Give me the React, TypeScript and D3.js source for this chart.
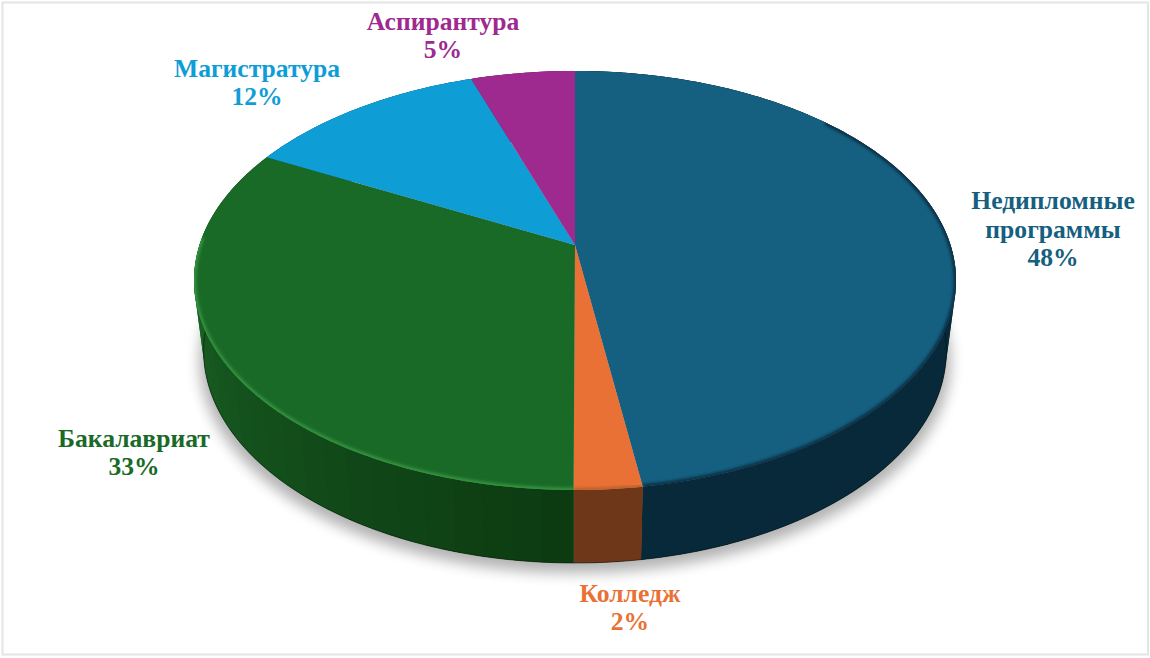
import React from "react";
import * as d3 from "d3";

const categories = ["Недипломные|программы", "Колледж", "Бакалавриат", "Магистратура", "Аспирантура"];
const shares = [47.6, 2.45, 32.65, 12.1, 5.2];
const percentLabels = ["48%", "2%", "33%", "12%", "5%"];

const topColors = ["#155f80", "#ea7135", "#1a6a27", "#0f9dd6", "#9e2a90"];
const wallFrom = ["#07293a", "#6f3719", "#0c3a11", "#0f6f96", "#6e1d64"];
const wallTo = ["#07293a", "#6f3719", "#1a6325", "#0f6f96", "#6e1d64"];
const bevelColors = ["#072a3c", "#b9602b", "#35953f", "#0f9dd6", "#9e2a90"];
const bevelFromDeg = [48, 165, 180, 0, 0];
const bevelToDeg = [175, 185, 272, 0, 0];
const labelX = [1053, 630, 134, 257, 443];
const labelBottom = [266, 630, 475, 105, 58];

const W = 1150;
const H = 658;
const K = 0.1694;
const LINE = 28.5;

type Disc = { cx: number; cy: number; a: number; b: number };
const topDisc: Disc = { cx: 575, cy: 245, a: 375.5, b: 203.5 };
const baseDisc: Disc = { cx: 575, cy: 315, a: 366, b: 206 };

const project = (d: Disc, t: number): [number, number] => {
  const u = Math.sin(t);
  const v = -Math.cos(t);
  const w = 1 - K * v;
  return [d.cx + (d.a * u) / w, d.cy + (d.b * v) / w];
};

const arcAngles = (a0: number, a1: number, step = Math.PI / 180) => {
  const n = Math.max(2, Math.ceil((a1 - a0) / step));
  return d3.range(n + 1).map((i) => a0 + ((a1 - a0) * i) / n);
};

const rad = (deg: number) => (deg * Math.PI) / 180;
const line = d3.line<[number, number]>();
const pie = d3.pie<number>().sort(null).value((d) => d);
const arcs = pie(shares);
const full = arcAngles(0, 2 * Math.PI);
const STRIP = rad(4);

export default function App() {
  return (
    <svg
      width={W}
      height={H}
      viewBox={`0 0 ${W} ${H}`}
      style={{ position: "absolute", left: 0, top: 0, background: "#fff" }}
    >
      <defs>
        <filter id="shadow" x="-20%" y="-20%" width="140%" height="140%">
          <feGaussianBlur stdDeviation="7" />
        </filter>
        <filter id="bevel" x="-20%" y="-20%" width="140%" height="140%">
          <feGaussianBlur stdDeviation="1.6" />
        </filter>
        {arcs.map((s, i) => (
          <clipPath id={`clip${i}`} key={i}>
            <path
              d={`${line(arcAngles(s.startAngle, s.endAngle).map((t) => project(topDisc, t)))}L${topDisc.cx},${topDisc.cy}Z`}
            />
          </clipPath>
        ))}
      </defs>
      <rect x={2.5} y={2.5} width={1145.5} height={652} fill="none" stroke="#e4e4e4" strokeWidth={2} />

      <path
        d={line(full.map((t) => project({ ...baseDisc, a: baseDisc.a + 4, cy: baseDisc.cy + 10 }, t))) + "Z"}
        fill="#000"
        opacity={0.3}
        filter="url(#shadow)"
      />

      {arcs.map((s, i) => {
        const color = d3
          .scaleLinear<string>()
          .domain([Math.PI, 1.5 * Math.PI])
          .range([wallFrom[i], wallTo[i]])
          .clamp(true);
        const ts = arcAngles(s.startAngle, s.endAngle, STRIP);
        const wholeArc = arcAngles(s.startAngle, s.endAngle);
        const whole = [
          ...wholeArc.map((t) => project(topDisc, t)),
          ...wholeArc.slice().reverse().map((t) => project(baseDisc, t)),
        ];
        return (
          <g key={i}>
            <path d={line(whole) + "Z"} fill={color((s.startAngle + s.endAngle) / 2)} />
            {ts.slice(1).map((t1, j) => {
              const t0 = ts[j];
              const c = color((t0 + t1) / 2);
              const a0 = arcAngles(t0, t1 + rad(0.4), rad(1));
              const pts = [
                ...a0.map((t) => project(topDisc, Math.min(t, s.endAngle))),
                ...a0.slice().reverse().map((t) => project(baseDisc, Math.min(t, s.endAngle))),
              ];
              return <path key={j} d={line(pts) + "Z"} fill={c} />;
            })}
          </g>
        );
      })}

      <path
        d={line(arcAngles(rad(90), rad(270)).map((t) => project(baseDisc, t))) as string}
        fill="none"
        stroke="#04130a"
        strokeOpacity={0.55}
        strokeWidth={1}
      />

      {arcs.map((s, i) => (
        <path
          key={i}
          d={`${line(arcAngles(s.startAngle, s.endAngle).map((t) => project(topDisc, t)))}L${topDisc.cx},${topDisc.cy}Z`}
          fill={topColors[i]}
        />
      ))}

      {arcs.map((s, i) =>
        bevelToDeg[i] > bevelFromDeg[i] ? (
          <g key={i} clipPath={`url(#clip${i})`}>
            <path
              d={
                line(
                  arcAngles(Math.max(s.startAngle, rad(bevelFromDeg[i])), Math.min(s.endAngle, rad(bevelToDeg[i]))).map((t) =>
                    project(topDisc, t)
                  )
                ) as string
              }
              fill="none"
              stroke={bevelColors[i]}
              strokeWidth={4.5}
              filter="url(#bevel)"
            />
          </g>
        ) : null
      )}

      {categories.map((c, i) => {
        const rows = [...c.split("|"), percentLabels[i]];
        return (
          <text
            key={i}
            x={labelX[i]}
            textAnchor="middle"
            fontFamily="'Liberation Serif', serif"
            fontWeight={700}
            fontSize={25.6}
            fill={topColors[i]}
          >
            {rows.map((r, j) => (
              <tspan key={j} x={labelX[i]} y={labelBottom[i] - (rows.length - 1 - j) * LINE}>
                {r}
              </tspan>
            ))}
          </text>
        );
      })}
    </svg>
  );
}
